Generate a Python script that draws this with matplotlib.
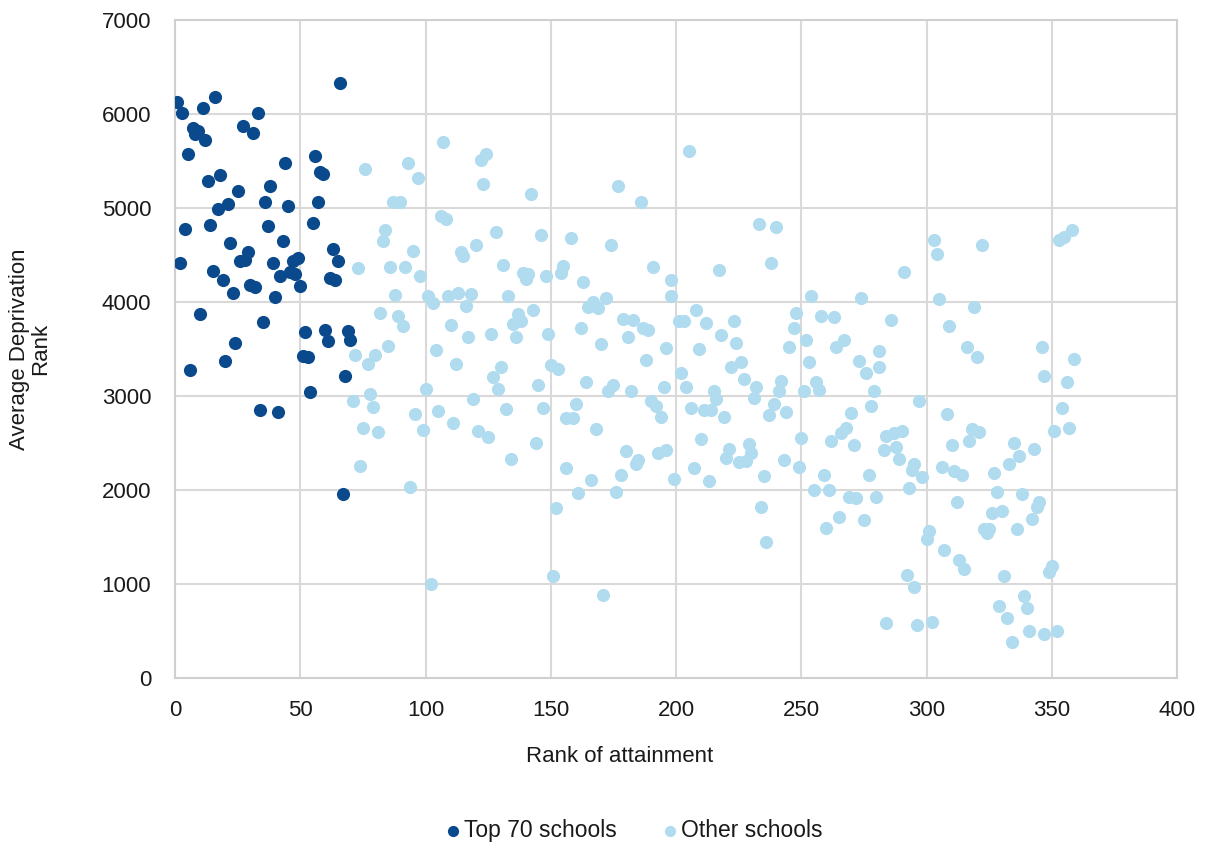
import matplotlib.pyplot as plt

# Top 70 schools: rank of attainment and average deprivation rank
top_rank = [1, 2, 3, 4, 5, 6, 7, 8, 9, 10, 11, 12, 13, 14, 15, 16, 17, 18, 19, 20,
            21, 22, 23, 24, 25, 26, 27, 28, 29, 30, 31, 32, 33, 34, 35, 36, 37, 38, 39, 40,
            41, 42, 43, 44, 45, 46, 47, 48, 49, 50, 51, 52, 53, 54, 55, 56, 57, 58, 59, 60,
            61, 62, 63, 64, 65, 66, 67, 68, 69, 70]
top_dep = [6130, 4410, 6010, 4780, 5570, 3280, 5850, 5790, 5820, 3870,
           6060, 5720, 5290, 4820, 4330, 6180, 4990, 5350, 4230, 3370,
           5040, 4630, 4100, 3560, 5180, 4440, 5870, 4450, 4530, 4180,
           5800, 4160, 6010, 2850, 3790, 5060, 4810, 5230, 4420, 4050,
           2830, 4280, 4650, 5480, 5020, 4320, 4440, 4300, 4470, 4170,
           3430, 3680, 3410, 3040, 4840, 5550, 5060, 5380, 5360, 3700,
           3590, 4260, 4560, 4230, 4440, 6330, 1960, 3210, 3690, 3600]

# Other schools
other_rank = [76, 93, 97, 87, 90, 84, 83, 95, 73, 86, 92, 98, 88, 82, 89, 91, 85,
              72, 80, 77, 71, 78, 79, 96, 99, 75, 81, 74, 94,
              107, 122, 124, 123, 142, 177, 186, 106, 108, 128, 146, 158, 174, 114, 115, 120, 131,
              139, 141, 140, 148, 154, 155, 163, 191, 198, 101, 103, 109, 113, 118, 116, 133, 143,
              110, 117, 126, 137, 135, 138, 136, 149, 165, 167, 169, 172, 162, 170, 179, 183, 181,
              187, 189, 196, 104,
              112, 130, 127, 129, 100, 119, 145, 150, 153, 164, 188, 173, 175, 182, 195, 190, 192,
              194, 105, 111, 132, 147, 160, 156, 159, 168, 121, 125, 144, 134, 156, 166, 161, 176,
              178, 180, 185, 184, 193, 196, 199, 152, 102, 151, 171,
              205, 233, 240, 238, 217, 198, 291, 254, 274, 208, 201, 203, 212, 223, 218, 224, 248,
              247, 258, 263, 286, 252, 267, 264, 209, 245, 281,
              202, 204, 222, 226, 227, 232, 231, 242, 241, 253, 251, 256, 257, 273, 276, 281, 279,
              278, 215, 216, 206, 211, 214, 219, 239, 237, 244, 270, 297, 210, 221, 220, 229, 230,
              225, 228, 207, 213, 235, 243, 249, 250, 262, 266, 268, 271, 259, 255, 261, 269, 272,
              280, 277, 265, 260, 275, 234, 236, 284, 287, 290, 283, 288, 289, 295, 294, 293, 298,
              292, 295, 284, 296,
              303, 304, 322, 353, 355, 358, 305, 319, 309, 316, 346,
              320, 347, 359, 356, 308, 354, 351, 357, 318, 321, 310, 317, 335, 343, 337, 333, 306,
              311, 314, 327, 328, 338, 312, 326, 330, 345, 344, 342, 323, 325, 324, 336, 301, 300,
              307, 313, 315, 331, 350, 349, 339, 340, 329, 332, 302, 341, 334, 347, 352]
other_dep = [5415, 5480, 5320, 5060, 5060, 4770, 4650, 4540, 4365, 4370, 4370, 4280, 4075, 3885, 3850, 3745, 3530,
             3436, 3436, 3337, 2950, 3020, 2880, 2810, 2640, 2656, 2620, 2255, 2035,
             5700, 5510, 5575, 5260, 5150, 5230, 5065, 4910, 4885, 4750, 4715, 4685, 4605, 4530, 4490, 4605, 4390,
             4305, 4300, 4250, 4280, 4310, 4385, 4215, 4370, 4235, 4065, 3985, 4065, 4100, 4090, 3955, 4065, 3920,
             3755, 3625, 3665, 3870, 3765, 3800, 3630, 3660, 3950, 4005, 3935, 4045, 3725, 3550, 3820, 3810, 3630,
             3725, 3700, 3515, 3490,
             3340, 3310, 3200, 3070, 3070, 2965, 3115, 3335, 3285, 3150, 3385, 3055, 3115, 3055, 3100, 2950, 2895,
             2780, 2845, 2715, 2860, 2875, 2910, 2770, 2770, 2650, 2630, 2560, 2505, 2330, 2230, 2105, 1965, 1975,
             2160, 2415, 2320, 2275, 2390, 2425, 2120, 1805, 1005, 1080, 885,
             5610, 4835, 4800, 4420, 4345, 4065, 4320, 4065, 4045, 3920, 3800, 3800, 3775, 3800, 3650, 3560, 3885,
             3725, 3850, 3845, 3810, 3595, 3595, 3525, 3495, 3520, 3480,
             3250, 3100, 3305, 3365, 3180, 3100, 2975, 3160, 3055, 3365, 3055, 3150, 3065, 3370, 3250, 3310, 3055,
             2895, 3055, 2965, 2875, 2850, 2850, 2780, 2920, 2800, 2835, 2815, 2950, 2545, 2435, 2345, 2490, 2390,
             2300, 2310, 2235, 2095, 2150, 2320, 2240, 2550, 2520, 2605, 2665, 2480, 2160, 2000, 2000, 1930, 1910,
             1930, 2160, 1715, 1600, 1680, 1815, 1445, 2580, 2610, 2630, 2425, 2460, 2330, 2275, 2215, 2025, 2140,
             1095, 965, 590, 565,
             4660, 4510, 4605, 4665, 4695, 4765, 4030, 3945, 3745, 3525, 3520,
             3420, 3215, 3390, 3150, 2810, 2875, 2630, 2665, 2645, 2615, 2480, 2520, 2505, 2435, 2360, 2275, 2240,
             2200, 2160, 2185, 1980, 1955, 1870, 1760, 1780, 1875, 1820, 1690, 1590, 1590, 1545, 1590, 1565, 1480,
             1360, 1255, 1165, 1090, 1190, 1125, 875, 750, 770, 635, 600, 505, 385, 465, 500]

dark = '#0a4a8c'
light = '#b1dcf0'
txt = '#1a1a1a'

plt.rcParams['font.family'] = ['Liberation Sans', 'DejaVu Sans']

fig = plt.figure(figsize=(12.16, 8.49), dpi=100)
ax = fig.add_axes([0.1439, 0.2014, 0.8241, 0.775])

ax.scatter(other_rank, other_dep, s=90, color=light, linewidths=0, zorder=3, label='Other schools')
ax.scatter(top_rank, top_dep, s=90, color=dark, linewidths=0, zorder=4, label='Top 70 schools')

ax.set_xlim(0, 400)
ax.set_ylim(0, 7000)
ax.set_xticks(range(0, 401, 50))
ax.set_yticks(range(0, 7001, 1000))
ax.grid(True, color='#d9d9d9', linewidth=1.5, zorder=0)
ax.set_axisbelow(True)
for side in ax.spines.values():
    side.set_color('#d0d0d0')
    side.set_linewidth(1.5)
ax.tick_params(length=0, labelsize=16, colors=txt)
ax.tick_params(axis='y', pad=17)
ax.tick_params(axis='x', pad=16)

ax.set_xlabel('Rank of attainment', fontsize=16, color=txt)
ax.xaxis.set_label_coords(0.444, -0.103)
ax.set_ylabel('Average Deprivation\nRank', fontsize=16, color=txt, linespacing=1.0)
ax.yaxis.set_label_coords(-0.124, 0.5)

handles, labels = ax.get_legend_handles_labels()
fig.legend(handles[::-1], labels[::-1], loc='center', bbox_to_anchor=(0.515, 0.022), ncol=2,
           frameon=False, fontsize=16.5, handletextpad=-0.5, columnspacing=1.3,
           markerscale=0.85, labelcolor=txt)

fig.savefig('out.png', dpi=100)
